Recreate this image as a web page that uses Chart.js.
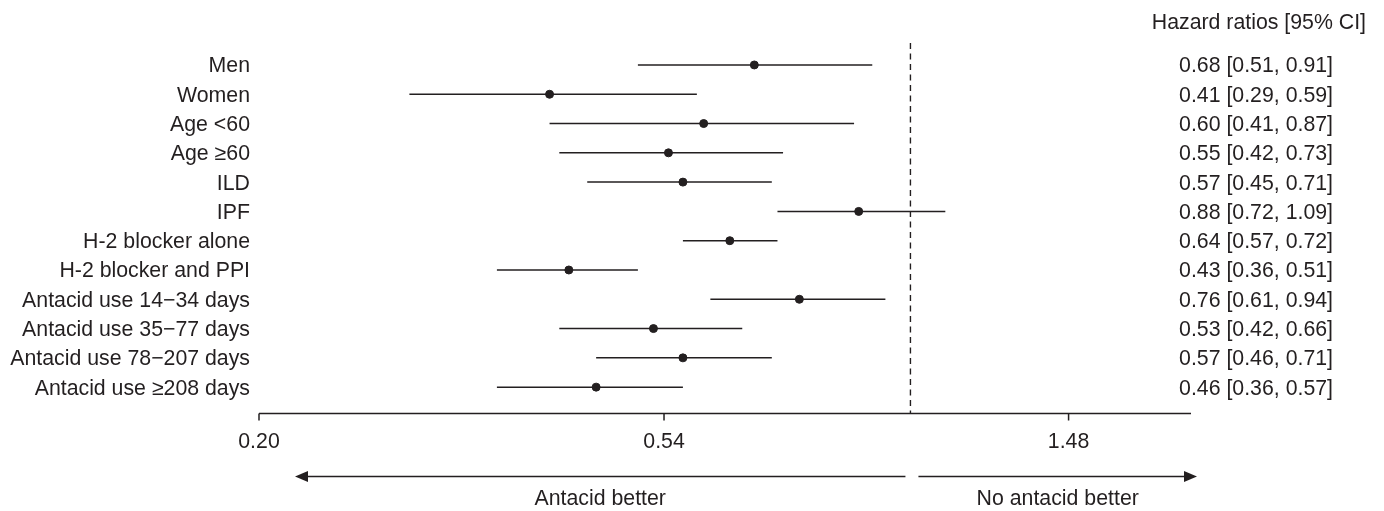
<!DOCTYPE html>
<html>
<head>
<meta charset="utf-8">
<script src="https://cdn.jsdelivr.net/npm/chart.js@4/dist/chart.umd.min.js"></script>
<style>
  html, body { margin: 0; padding: 0; background: #fff; }
  #wrap { width: 1384px; height: 511px; position: relative; }
</style>
</head>
<body>
<div id="wrap"><canvas id="forest"></canvas></div>
<script>
// rows of the forest plot, top to bottom
const categories = [
  'Men', 'Women', 'Age <60', 'Age \u226560', 'ILD', 'IPF',
  'H-2 blocker alone', 'H-2 blocker and PPI',
  'Antacid use 14\u221234 days', 'Antacid use 35\u221277 days',
  'Antacid use 78\u2212207 days', 'Antacid use \u2265208 days'
];
const hazardRatio = [0.68, 0.41, 0.60, 0.55, 0.57, 0.88, 0.64, 0.43, 0.76, 0.53, 0.57, 0.46];
const ciLower     = [0.51, 0.29, 0.41, 0.42, 0.45, 0.72, 0.57, 0.36, 0.61, 0.42, 0.46, 0.36];
const ciUpper     = [0.91, 0.59, 0.87, 0.73, 0.71, 1.09, 0.72, 0.51, 0.94, 0.66, 0.71, 0.57];
const tickValues  = [0.200, 0.544, 1.478];
const xRange      = [0.2, 2.0];
const refLine     = 1;

const INK = '#231f20';
const FONT = '21.3px "Liberation Sans", Arial, sans-serif';

const fmt = v => v.toFixed(2);

const ciSets = categories.map((c, i) => ({
  label: c,
  data: [{ x: ciLower[i], y: i }, { x: ciUpper[i], y: i }],
  showLine: true,
  borderColor: INK,
  borderWidth: 1.5,
  pointRadius: 0,
  order: 2
}));

const yMin = -0.75, yMax = 11.9;

const forestExtras = {
  id: 'forestExtras',
  afterDraw(chart) {
    const ctx = chart.ctx;
    const xs = chart.scales.x, ys = chart.scales.y;
    const area = chart.chartArea;
    ctx.save();
    ctx.fillStyle = INK;
    ctx.strokeStyle = INK;
    ctx.font = FONT;
    ctx.textBaseline = 'middle';

    // row labels and HR text
    categories.forEach((c, i) => {
      const y = ys.getPixelForValue(i) + 1.5;
      ctx.textAlign = 'right';
      ctx.fillText(c, area.left - 9, y);
      ctx.fillText(fmt(hazardRatio[i]) + ' [' + fmt(ciLower[i]) + ', ' + fmt(ciUpper[i]) + ']', area.right + 142, y);
    });
    ctx.textAlign = 'right';
    ctx.fillText('Hazard ratios [95% CI]', area.right + 175, 23);

    // x axis
    const axisY = area.bottom;
    ctx.lineWidth = 1.5;
    ctx.beginPath();
    ctx.moveTo(xs.getPixelForValue(xRange[0]), axisY);
    ctx.lineTo(xs.getPixelForValue(xRange[1]), axisY);
    ctx.stroke();
    ctx.textAlign = 'center';
    tickValues.forEach(v => {
      const x = xs.getPixelForValue(v);
      ctx.beginPath();
      ctx.moveTo(x, axisY);
      ctx.lineTo(x, axisY + 7);
      ctx.stroke();
      ctx.fillText(fmt(v), x, axisY + 28.5);
    });

    // direction arrows
    const x1 = xs.getPixelForValue(refLine);
    const arrowY = axisY + 63;
    const leftEnd = area.left + 36, rightEnd = area.right + 6;
    const arrow = (from, to) => {
      const dir = Math.sign(to - from);
      ctx.beginPath();
      ctx.moveTo(from, arrowY);
      ctx.lineTo(to - dir * 10, arrowY);
      ctx.stroke();
      ctx.beginPath();
      ctx.moveTo(to, arrowY);
      ctx.lineTo(to - dir * 13, arrowY - 5.5);
      ctx.lineTo(to - dir * 13, arrowY + 5.5);
      ctx.closePath();
      ctx.fill();
    };
    arrow(x1 - 5, leftEnd);
    arrow(x1 + 8, rightEnd);
    ctx.textAlign = 'center';
    ctx.fillText('Antacid better', (x1 - 5 + leftEnd) / 2, arrowY + 23);
    ctx.fillText('No antacid better', (x1 + 8 + rightEnd) / 2, arrowY + 23);
    ctx.restore();
  }
};

new Chart(document.getElementById('forest'), {
  type: 'scatter',
  data: {
    datasets: [
      ...ciSets,
      {
        label: 'HR',
        data: hazardRatio.map((v, i) => ({ x: v, y: i })),
        backgroundColor: INK,
        borderColor: INK,
        pointRadius: 4,
        order: 1
      },
      {
        label: 'no effect',
        data: [{ x: refLine, y: yMin }, { x: refLine, y: yMax }],
        showLine: true,
        borderColor: INK,
        borderWidth: 1.4,
        borderDash: [6, 4.5],
        pointRadius: 0,
        order: 3
      }
    ]
  },
  options: {
    responsive: true,
    maintainAspectRatio: false,
    animation: false,
    layout: { padding: { left: 259, right: 193, top: 43, bottom: 97.5 } },
    scales: {
      x: { type: 'logarithmic', min: xRange[0], max: xRange[1], display: false },
      y: { type: 'linear', min: yMin, max: yMax, reverse: true, display: false }
    },
    plugins: {
      legend: { display: false },
      tooltip: { enabled: false }
    }
  },
  plugins: [forestExtras]
});
</script>
</body>
</html>
